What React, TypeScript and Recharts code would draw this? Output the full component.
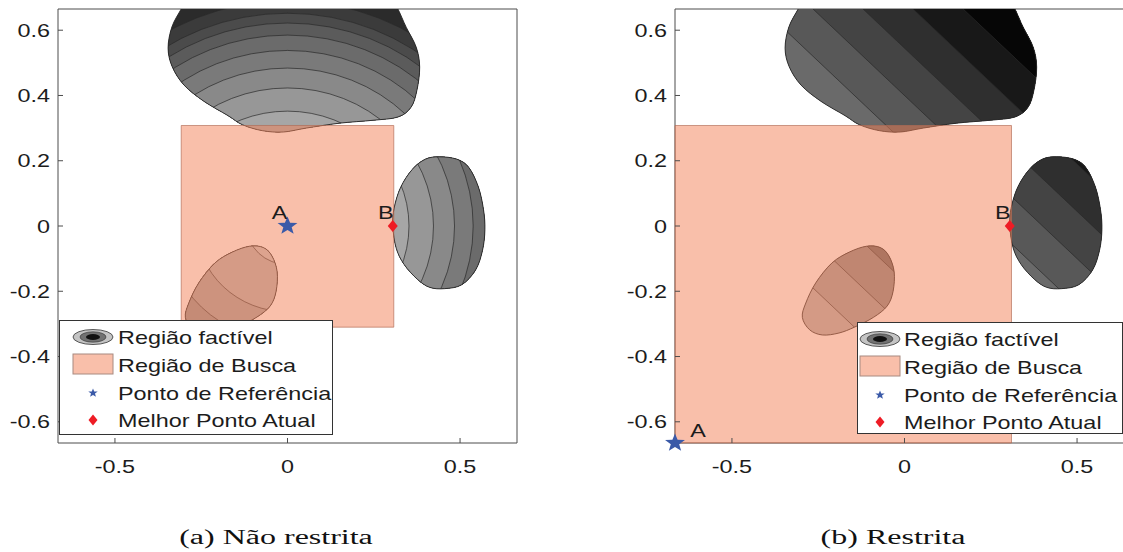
import {
  Legend,
  ReferenceLine,
  Scatter,
  ScatterChart,
  XAxis,
  YAxis,
} from "recharts";

type Pair = [number, number];
type Box = { x1: number; x2: number; y1: number; y2: number };

const LIM = 0.665;
const X_TICKS = [-0.5, 0, 0.5];
const Y_TICKS = [-0.6, -0.4, -0.2, 0, 0.2, 0.4, 0.6];

// feasible region outlines, shared by both panels
const REGION_TOP: Pair[] = [
  [-0.29, 0.7], [-0.308, 0.665], [-0.335, 0.61], [-0.346, 0.545], [-0.334, 0.488],
  [-0.3, 0.432], [-0.242, 0.382], [-0.172, 0.338], [-0.13, 0.31], [-0.072, 0.292],
  [-0.012, 0.288], [0.054, 0.3], [0.15, 0.315], [0.248, 0.324], [0.32, 0.334],
  [0.358, 0.364], [0.375, 0.416], [0.383, 0.487], [0.373, 0.548], [0.344, 0.609],
  [0.32, 0.665], [0.3, 0.7], [0.0, 0.735],
];
const REGION_RIGHT: Pair[] = [
  [0.44, 0.212], [0.49, 0.205], [0.525, 0.18], [0.553, 0.12], [0.568, 0.05],
  [0.572, -0.012], [0.565, -0.075], [0.545, -0.135], [0.505, -0.18], [0.455, -0.192],
  [0.412, -0.188], [0.376, -0.163], [0.338, -0.118], [0.315, -0.068], [0.305, 0.0],
  [0.309, 0.055], [0.328, 0.119], [0.362, 0.174], [0.4, 0.205],
];
const REGION_LOW: Pair[] = [
  [-0.11, -0.062], [-0.07, -0.066], [-0.045, -0.092], [-0.03, -0.14], [-0.033, -0.2],
  [-0.05, -0.245], [-0.09, -0.28], [-0.145, -0.31], [-0.19, -0.328], [-0.238, -0.334],
  [-0.275, -0.318], [-0.296, -0.28], [-0.286, -0.236], [-0.257, -0.174], [-0.21, -0.113],
  [-0.16, -0.08],
];
const REGIONS = [REGION_TOP, REGION_RIGHT, REGION_LOW];

// (a) unconstrained: level circles around the reference point
const REF_A: Pair = [0, 0];
const BEST_A: Pair = [0.305, 0];
const BOX_A: Box = { x1: -0.308, x2: 0.308, y1: -0.31, y2: 0.308 };
const RADII_A = [0.69, 0.652, 0.622, 0.585, 0.538, 0.484, 0.423, 0.352, 0.263, 0.118];
const SHADES_A = [
  "#2b2b2b", "#3b3b3b", "#4b4b4b", "#5b5b5b", "#6b6b6b", "#7a7a7a",
  "#898989", "#979797", "#a6a6a6", "#b6b6b6", "#c6c6c6",
];

// (b) constrained: level lines x + y = c
const REF_B: Pair = [-0.665, -0.665];
const BEST_B: Pair = [0.305, 0];
const BOX_B: Box = { x1: -0.665, x2: 0.31, y1: -0.665, y2: 0.308 };
const OFFSETS_B = [-0.455, -0.31, -0.17, 0.255, 0.4, 0.545, 0.69, 0.835];
const SHADES_B = [
  "#b4b4b4", "#a0a0a0", "#8c8c8c", "#6a6a6a", "#585858",
  "#444444", "#2f2f2f", "#181818", "#060606",
];

const LEGEND_LABELS = [
  "Região factível",
  "Região de Busca",
  "Ponto de Referência",
  "Melhor Ponto Atual",
];

const SANS = "'Liberation Sans', Arial, sans-serif";
const SERIF = "'Liberation Serif', 'Times New Roman', serif";
const STRETCH = 1.3;
const AXIS = "#4d4d4d";
const INK = "#1c1c1c";
const CONTOUR = "#2a2a2a";
const STAR = "#3b5aa8";
const DIAMOND = "#ee1c25";
const BOX_FILL = "#f37f55";

const toPts = (pairs: Pair[]) => pairs.map(([x, y]) => ({ x, y }));
const boxCorners = (b: Box) => toPts([[b.x1, b.y1], [b.x2, b.y1], [b.x2, b.y2], [b.x1, b.y2]]);

// closed Catmull-Rom path through pixel points
function closedPath(pts: { x: number; y: number }[]) {
  const n = pts.length;
  let d = `M${pts[0].x},${pts[0].y}`;
  for (let i = 0; i < n; i++) {
    const p0 = pts[(i - 1 + n) % n];
    const p1 = pts[i];
    const p2 = pts[(i + 1) % n];
    const p3 = pts[(i + 2) % n];
    d += `C${p1.x + (p2.x - p0.x) / 6},${p1.y + (p2.y - p0.y) / 6} ${p2.x - (p3.x - p1.x) / 6},${p2.y - (p3.y - p1.y) / 6} ${p2.x},${p2.y}`;
  }
  return d + "Z";
}

function starPoints(cx: number, cy: number, R: number, r: number) {
  const out: string[] = [];
  for (let k = 0; k < 10; k++) {
    const a = -Math.PI / 2 + (k * Math.PI) / 5;
    const rad = k % 2 === 0 ? R : r;
    out.push(`${cx + rad * Math.cos(a) * 1.1},${cy + rad * Math.sin(a)}`);
  }
  return out.join(" ");
}

const noShape = () => <g />;

function XTick(props: any) {
  const { x, y, payload } = props;
  return (
    <g>
      <line x1={x} y1={y} x2={x} y2={y - 5} stroke={AXIS} />
      <text
        transform={`translate(${x},${y + 30}) scale(${STRETCH},1)`}
        textAnchor="middle"
        fontFamily={SANS}
        fontSize={18}
        fill={INK}
      >
        {String(payload.value)}
      </text>
    </g>
  );
}

function YTick(props: any) {
  const { x, y, payload } = props;
  return (
    <g>
      <line x1={x} y1={y} x2={x + 5} y2={y} stroke={AXIS} />
      <text
        transform={`translate(${x - 8},${y + 6.5}) scale(${STRETCH},1)`}
        textAnchor="end"
        fontFamily={SANS}
        fontSize={18}
        fill={INK}
      >
        {String(payload.value)}
      </text>
    </g>
  );
}

type LegendGeom = { left: number; top: number; width: number; height: number; iconX: number; textX: number };

function LegendBox({ g }: { g: LegendGeom }) {
  const rows = [17, 45, 73, 100];
  return (
    <svg width={g.width} height={g.height} style={{ display: "block" }}>
      <rect x={0.5} y={0.5} width={g.width - 1} height={g.height - 1} fill="#fff" stroke="#333" />
      <g>
        <ellipse cx={g.iconX} cy={rows[0]} rx={20} ry={7.5} fill="#c4c4c4" stroke="#333" strokeWidth={0.8} />
        <ellipse cx={g.iconX} cy={rows[0]} rx={13} ry={5.2} fill="#727272" stroke="#333" strokeWidth={0.6} />
        <ellipse cx={g.iconX} cy={rows[0]} rx={7} ry={3} fill="#111" />
      </g>
      <rect x={g.iconX - 20} y={rows[1] - 11} width={40} height={20} fill="#f9bfaa" stroke="#a88a80" />
      <polygon points={starPoints(g.iconX, rows[2], 4.5, 1.9)} fill={STAR} />
      <polygon
        points={`${g.iconX},${rows[3] - 5.5} ${g.iconX + 4.5},${rows[3]} ${g.iconX},${rows[3] + 5.5} ${g.iconX - 4.5},${rows[3]}`}
        fill={DIAMOND}
      />
      {LEGEND_LABELS.map((label, i) => (
        <text
          key={label}
          transform={`translate(${g.textX},${rows[i] + 6.5}) scale(${STRETCH},1)`}
          fontFamily={SANS}
          fontSize={18}
          fill={INK}
        >
          {label}
        </text>
      ))}
    </svg>
  );
}

type PanelProps = {
  id: string;
  left: number;
  reference: Pair;
  best: Pair;
  box: Box;
  contours: "radial" | "diagonal";
  levels: number[];
  shades: string[];
  refLabel: { dx: number; dy: number };
  legend: LegendGeom;
};

function Panel(p: PanelProps) {
  const ids = REGIONS.map((_, i) => `${p.id}-region-${i}`);
  const baseShade = p.shades[0];

  // points fed to the contour layer: center plus unit steps, or level-line triangles
  const contourData =
    p.contours === "radial"
      ? [
          { x: p.reference[0], y: p.reference[1] },
          { x: p.reference[0] + 1, y: p.reference[1] },
          { x: p.reference[0], y: p.reference[1] + 1 },
        ]
      : p.levels.flatMap((c) => [
          { x: -3, y: c + 3 },
          { x: c + 3, y: -3 },
          { x: 3, y: 3 },
        ]);

  const drawContours = (lp: any) => {
    const pts = lp.points as { x: number; y: number }[];
    if (p.contours === "radial") {
      const [c, ux, uy] = pts;
      const kx = ux.x - c.x;
      const ky = c.y - uy.y;
      return (
        <g>
          {ids.map((id) => (
            <g key={id} clipPath={`url(#${id})`}>
              {p.levels.map((r, i) => (
                <ellipse
                  key={i}
                  cx={c.x}
                  cy={c.y}
                  rx={r * kx}
                  ry={r * ky}
                  fill={p.shades[i + 1]}
                  stroke={CONTOUR}
                  strokeWidth={0.7}
                />
              ))}
            </g>
          ))}
        </g>
      );
    }
    return (
      <g>
        {ids.map((id) => (
          <g key={id} clipPath={`url(#${id})`}>
            {p.levels.map((_, i) => {
              const tri = pts.slice(i * 3, i * 3 + 3);
              return (
                <polygon
                  key={i}
                  points={tri.map((q) => `${q.x},${q.y}`).join(" ")}
                  fill={p.shades[i + 1]}
                  stroke={CONTOUR}
                  strokeWidth={0.7}
                />
              );
            })}
          </g>
        ))}
      </g>
    );
  };

  const regionFill = (id: string) => (lp: any) => {
    const d = closedPath(lp.points);
    return (
      <g>
        <defs>
          <clipPath id={id}>
            <path d={d} />
          </clipPath>
        </defs>
        <path d={d} fill={baseShade} />
      </g>
    );
  };

  const regionEdge = (lp: any) => (
    <path d={closedPath(lp.points)} fill="none" stroke="#262626" strokeWidth={0.9} />
  );

  const searchBox = (lp: any) => (
    <polygon
      points={(lp.points as { x: number; y: number }[]).map((q) => `${q.x},${q.y}`).join(" ")}
      fill={BOX_FILL}
      fillOpacity={0.5}
      stroke="#b06a55"
      strokeOpacity={0.65}
    />
  );

  const labelText = (x: number, y: number, text: string) => (
    <text
      transform={`translate(${x},${y}) scale(${STRETCH},1)`}
      textAnchor="middle"
      fontFamily={SANS}
      fontSize={18}
      fill={INK}
    >
      {text}
    </text>
  );

  const starShape = (sp: any) => (
    <g>
      <polygon points={starPoints(sp.cx, sp.cy, 9.5, 4)} fill={STAR} />
      {labelText(sp.cx + p.refLabel.dx, sp.cy + p.refLabel.dy, "A")}
    </g>
  );

  const diamondShape = (sp: any) => (
    <g>
      <polygon
        points={`${sp.cx},${sp.cy - 6} ${sp.cx + 5},${sp.cy} ${sp.cx},${sp.cy + 6} ${sp.cx - 5},${sp.cy}`}
        fill={DIAMOND}
      />
      {labelText(sp.cx - 7, sp.cy - 7, "B")}
    </g>
  );

  return (
    <div style={{ position: "absolute", left: p.left, top: 0 }}>
      <ScatterChart width={540} height={480} margin={{ top: 9, right: 23, bottom: 0, left: 0 }}>
        <XAxis
          type="number"
          dataKey="x"
          domain={[-LIM, LIM]}
          ticks={X_TICKS}
          allowDataOverflow
          height={37}
          tickSize={0}
          tickMargin={0}
          tickLine={false}
          axisLine={{ stroke: AXIS }}
          tick={<XTick />}
        />
        <YAxis
          type="number"
          dataKey="y"
          domain={[-LIM, LIM]}
          ticks={Y_TICKS}
          allowDataOverflow
          width={58}
          tickSize={0}
          tickMargin={0}
          tickLine={false}
          axisLine={{ stroke: AXIS }}
          tick={<YTick />}
        />
        {/* unclipped pair of axes for the search box and the marked points */}
        <XAxis xAxisId="free" type="number" dataKey="x" domain={[-LIM, LIM]} hide />
        <YAxis yAxisId="free" type="number" dataKey="y" domain={[-LIM, LIM]} hide />
        {REGIONS.map((reg, i) => (
          <Scatter
            key={`fill-${i}`}
            data={toPts(reg)}
            shape={noShape}
            line={regionFill(ids[i])}
            legendType="none"
            isAnimationActive={false}
          />
        ))}
        <Scatter
          data={contourData}
          shape={noShape}
          line={drawContours}
          legendType="none"
          isAnimationActive={false}
        />
        {REGIONS.map((reg, i) => (
          <Scatter
            key={`edge-${i}`}
            data={toPts(reg)}
            shape={noShape}
            line={regionEdge}
            legendType="none"
            isAnimationActive={false}
          />
        ))}
        <ReferenceLine y={LIM} stroke={AXIS} ifOverflow="visible" />
        <ReferenceLine x={LIM} stroke={AXIS} ifOverflow="visible" />
        <Scatter
          xAxisId="free"
          yAxisId="free"
          data={boxCorners(p.box)}
          shape={noShape}
          line={searchBox}
          legendType="none"
          isAnimationActive={false}
        />
        <Scatter
          xAxisId="free"
          yAxisId="free"
          data={[{ x: p.reference[0], y: p.reference[1] }]}
          shape={starShape}
          legendType="none"
          isAnimationActive={false}
        />
        <Scatter
          xAxisId="free"
          yAxisId="free"
          data={[{ x: p.best[0], y: p.best[1] }]}
          shape={diamondShape}
          legendType="none"
          isAnimationActive={false}
        />
        <Legend
          layout="vertical"
          align="center"
          verticalAlign="middle"
          content={() => <LegendBox g={p.legend} />}
          wrapperStyle={{
            left: p.legend.left,
            top: p.legend.top,
            width: p.legend.width,
            height: p.legend.height,
          }}
        />
      </ScatterChart>
    </div>
  );
}

export default function App() {
  return (
    <div
      style={{
        position: "absolute",
        left: 0,
        top: 0,
        width: 1123,
        height: 552,
        overflow: "hidden",
        background: "#fff",
      }}
    >
      <Panel
        id="a"
        left={0}
        reference={REF_A}
        best={BEST_A}
        box={BOX_A}
        contours="radial"
        levels={RADII_A}
        shades={SHADES_A}
        refLabel={{ dx: -8, dy: -7 }}
        legend={{ left: 59, top: 320, width: 274, height: 115, iconX: 34, textX: 59 }}
      />
      <Panel
        id="b"
        left={617}
        reference={REF_B}
        best={BEST_B}
        box={BOX_B}
        contours="diagonal"
        levels={OFFSETS_B}
        shades={SHADES_B}
        refLabel={{ dx: 23, dy: -6 }}
        legend={{ left: 240, top: 322, width: 266, height: 112, iconX: 23, textX: 47 }}
      />
      <svg width={1123} height={552} style={{ position: "absolute", left: 0, top: 0, pointerEvents: "none" }}>
        <text
          transform={`translate(276,544) scale(1.6,1)`}
          textAnchor="middle"
          fontFamily={SERIF}
          fontSize={20}
          fill="#111"
        >
          (a) Não restrita
        </text>
        <text
          transform={`translate(893,544) scale(1.6,1)`}
          textAnchor="middle"
          fontFamily={SERIF}
          fontSize={20}
          fill="#111"
        >
          (b) Restrita
        </text>
      </svg>
    </div>
  );
}
